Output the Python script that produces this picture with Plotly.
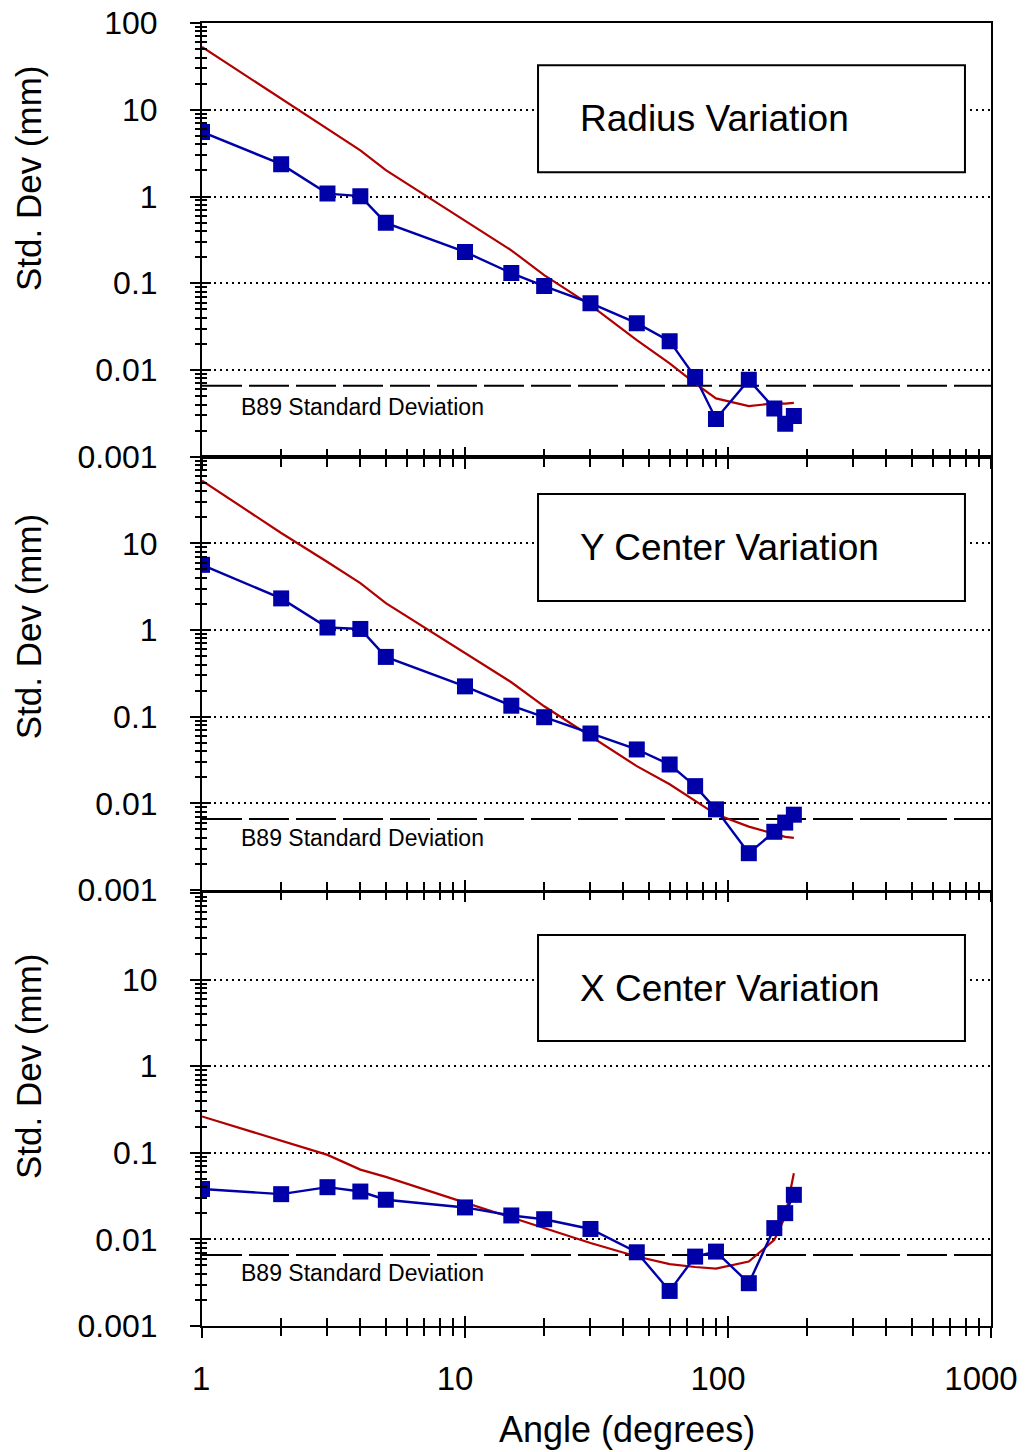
import plotly.graph_objects as go

# ---------------- data ----------------
angles = [1, 2, 3, 4, 5, 10, 15, 20, 30, 45, 60, 75, 90, 120, 150, 165, 178]

radius_meas = [5.55, 2.36, 1.08, 1.01, 0.497, 0.230, 0.131, 0.0927, 0.059, 0.0347, 0.0215,
               0.0083, 0.00273, 0.0077, 0.00361, 0.00241, 0.00296]
radius_model = [52.9, 13.5, 6.07, 3.41, 2.01, 0.533, 0.24, 0.124, 0.056, 0.0221, 0.0119,
                0.0070, 0.00471, 0.00384, 0.00412, 0.0041, 0.00417]

ycenter_meas = [5.66, 2.32, 1.07, 1.03, 0.49, 0.224, 0.134, 0.0987, 0.064, 0.0419, 0.0281,
                0.0158, 0.00853, 0.00266, 0.0047, 0.0060, 0.0074]
ycenter_model = [53.0, 13.2, 6.1, 3.49, 2.05, 0.545, 0.25, 0.132, 0.0596, 0.0269, 0.0166,
                 0.0106, 0.00747, 0.00539, 0.0044, 0.0041, 0.0040]

xcenter_meas = [0.0382, 0.0333, 0.0401, 0.0357, 0.0287, 0.0234, 0.0189, 0.0171, 0.0132, 0.0071,
                0.00254, 0.00633, 0.00723, 0.00312, 0.0135, 0.0201, 0.0327]
xcenter_model = [0.263, 0.137, 0.0946, 0.064, 0.0527, 0.0266, 0.018, 0.0134, 0.0091, 0.00635,
                 0.00518, 0.0048, 0.0046, 0.00555, 0.00986, 0.0183, 0.058]

b89_std = 0.0066
b89_label = "B89 Standard Deviation"

panel_titles = ["Radius Variation", "Y Center Variation", "X Center Variation"]
y_title = "Std. Dev (mm)"
x_title = "Angle (degrees)"

y_major = [0.001, 0.01, 0.1, 1, 10, 100]
y_major_text_top = ["0.001", "0.01", "0.1", "1", "10", "100"]
y_major_text = ["0.001", "0.01", "0.1", "1", "10", ""]
x_major = [1, 10, 100, 1000]
x_major_text = ["\u00a0\u00a01", "10", "100", "1000"]

# ---------------- style ----------------
FONT = "Liberation Sans, Arial, sans-serif"
BLUE = "#0000A8"
RED = "#B00000"
y_minor = [k * 10 ** e for e in range(-3, 2) for k in range(2, 10)]
x_minor = [k * 10 ** e for e in range(0, 3) for k in range(2, 10)]

domains = [[0.6671, 1.0], [0.3346, 0.6671], [0.0, 0.3323]]
meas = [radius_meas, ycenter_meas, xcenter_meas]
model = [radius_model, ycenter_model, xcenter_model]
box_y = [(0.656, 0.9025), (0.667, 0.914), (0.658, 0.903)]
lab_y = [0.1145, 0.12, 0.122]
ytitle_y = [0.881, 0.537, 0.1995]

fig = go.Figure()
layout = dict(
    width=1026, height=1452,
    margin=dict(l=202, r=35, t=23, b=126, autoexpand=False),
    paper_bgcolor="white", plot_bgcolor="white",
    showlegend=False,
    font=dict(family=FONT, color="black"),
)
shapes = []
annotations = []

for i in range(3):
    n = i + 1
    ov = i + 4
    xa = "x" if n == 1 else f"x{n}"
    ya = "y" if n == 1 else f"y{n}"
    xo = f"x{ov}"
    yo = f"y{ov}"
    xkey = "xaxis" if n == 1 else f"xaxis{n}"
    ykey = "yaxis" if n == 1 else f"yaxis{n}"

    # B89 reference line
    fig.add_trace(go.Scatter(x=[1, 1000], y=[b89_std, b89_std], mode="lines",
                             line=dict(color="black", width=2, dash="40px,7px"),
                             xaxis=xa, yaxis=ya, hoverinfo="skip"))
    # model (red)
    fig.add_trace(go.Scatter(x=angles, y=model[i], mode="lines",
                             line=dict(color=RED, width=2.2),
                             xaxis=xa, yaxis=ya))
    # measured (blue)
    fig.add_trace(go.Scatter(x=angles, y=meas[i], mode="lines+markers",
                             line=dict(color=BLUE, width=2.4),
                             marker=dict(symbol="square", size=16, color=BLUE),
                             xaxis=xa, yaxis=ya))
    # invisible trace for overlay (inside ticks)
    fig.add_trace(go.Scatter(x=angles, y=meas[i], mode="lines",
                             line=dict(width=0), opacity=0,
                             xaxis=xo, yaxis=yo, hoverinfo="skip"))

    common_x = dict(type="log", range=[0, 3], tickmode="array", tickvals=x_major,
                    tickwidth=2, tickcolor="black", showgrid=False, zeroline=False,
                    domain=[0, 1], automargin=False)
    common_y = dict(type="log", range=[-3, 2], tickmode="array", tickvals=y_major,
                    tickwidth=2, tickcolor="black", zeroline=False, domain=domains[i],
                    automargin=False)

    layout[xkey] = dict(common_x, anchor=ya, ticks="outside", ticklen=10,
                        showline=True, linecolor="black", linewidth=2, mirror=True,
                        ticktext=x_major_text if n == 3 else [""] * 4,
                        showticklabels=(n == 3),
                        tickfont=dict(size=33, family=FONT, color="black"),
                        ticklabelstandoff=12, ticklabelshift=-10,
                        ticklabeloverflow="allow",
                        minor=dict(tickmode="array", tickvals=x_minor, ticks="outside",
                                   ticklen=8, tickwidth=2, tickcolor="black", showgrid=False))
    layout[f"xaxis{ov}"] = dict(common_x, anchor=yo, overlaying=xa, ticks="inside",
                                ticklen=10, showline=False, showticklabels=False,
                                minor=dict(tickmode="array", tickvals=x_minor, ticks="inside",
                                           ticklen=8, tickwidth=2, tickcolor="black",
                                           showgrid=False))
    layout[ykey] = dict(common_y, anchor=xa, ticks="outside", ticklen=10,
                        showline=True, linecolor="black", linewidth=2, mirror=True,
                        ticktext=y_major_text_top if n == 1 else y_major_text,
                        tickfont=dict(size=32, family=FONT, color="black"),
                        ticklabelstandoff=26, ticklabeloverflow="allow",
                        showgrid=True, gridcolor="black", gridwidth=2, griddash="2px,4px",
                        minor=dict(tickmode="array", tickvals=y_minor, ticks="outside",
                                   ticklen=5, tickwidth=2, tickcolor="black", showgrid=False))
    layout[f"yaxis{ov}"] = dict(common_y, anchor=xo, overlaying=ya, ticks="inside",
                                ticklen=9, showline=False, showticklabels=False,
                                showgrid=False,
                                minor=dict(tickmode="array", tickvals=y_minor, ticks="inside",
                                           ticklen=5, tickwidth=2, tickcolor="black",
                                           showgrid=False))

    # title box
    shapes.append(dict(type="rect", xref=f"{xa} domain", yref=f"{ya} domain",
                       x0=0.4259, x1=0.967, y0=box_y[i][0], y1=box_y[i][1],
                       line=dict(color="black", width=2), fillcolor="white", layer="above"))
    annotations.append(dict(text=panel_titles[i], xref=f"{xa} domain", yref=f"{ya} domain",
                            x=0.476, y=(box_y[i][0] + box_y[i][1]) / 2,
                            xanchor="left", yanchor="middle", showarrow=False,
                            font=dict(size=37, family=FONT, color="black")))
    # B89 label
    annotations.append(dict(text=b89_label, xref=f"{xa} domain", yref=f"{ya} domain",
                            x=0.047, y=lab_y[i], xanchor="left", yanchor="middle",
                            showarrow=False, font=dict(size=23, family=FONT, color="black")))
    # y title
    annotations.append(dict(text=y_title, xref="paper", yref="paper", x=-0.2205,
                            y=ytitle_y[i], xanchor="center", yanchor="middle",
                            textangle=-90, showarrow=False,
                            font=dict(size=35, family=FONT, color="black")))

annotations.append(dict(text=x_title, xref="paper", yref="paper", x=0.5387, y=-0.0798,
                        xanchor="center", yanchor="middle", showarrow=False,
                        font=dict(size=36, family=FONT, color="black")))

layout["shapes"] = shapes
layout["annotations"] = annotations
fig.update_layout(**layout)
fig.write_html("out.html", config={"displayModeBar": False},
               post_script="document.body.style.margin='0';")
